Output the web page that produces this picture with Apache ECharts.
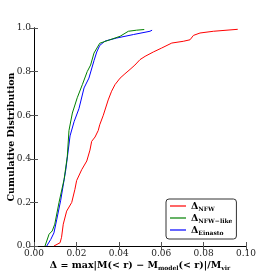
<!DOCTYPE html>
<html><head><meta charset="utf-8">
<script src="https://cdn.jsdelivr.net/npm/echarts@6/dist/echarts.min.js"></script>
<style>html,body{margin:0;padding:0;background:#fff}#c{width:274px;height:274px}</style>
</head><body><div id="c"></div>
<script>
var nfwX = [0.0094,0.0123,0.013,0.0138,0.0154,0.0178,0.0193,0.0201,0.0225,0.0249,0.0264,0.0272,0.0288,0.0303,0.031,0.0327,0.035,0.0366,0.0382,0.0406,0.0429,0.0453,0.0476,0.05,0.0524,0.0563,0.0602,0.061,0.065,0.0704,0.0736,0.0752,0.0783,0.0846,0.0961];
var nfwY = [0,0.015,0.04,0.10,0.16,0.20,0.26,0.30,0.35,0.39,0.44,0.48,0.50,0.53,0.556,0.60,0.67,0.71,0.74,0.77,0.79,0.81,0.83,0.855,0.87,0.89,0.908,0.916,0.931,0.939,0.946,0.966,0.977,0.985,0.994];
var likeX = [0.0052,0.0071,0.0086,0.0098,0.0118,0.0142,0.0157,0.0165,0.0181,0.0204,0.0228,0.0251,0.0267,0.0283,0.031,0.0358,0.0406,0.0445,0.0484,0.052];
var likeY = [0,0.054,0.069,0.10,0.20,0.306,0.41,0.53,0.61,0.68,0.74,0.80,0.83,0.885,0.93,0.946,0.962,0.985,0.99,0.993];
var einX = [0.006,0.0079,0.0094,0.0107,0.0126,0.015,0.017,0.0189,0.0212,0.0236,0.0259,0.0283,0.0296,0.031,0.0335,0.039,0.0469,0.0547,0.0557];
var einY = [0,0.03,0.06,0.12,0.21,0.35,0.505,0.57,0.63,0.725,0.77,0.85,0.89,0.92,0.94,0.954,0.97,0.985,0.99];
var seriesNames = ['NFW','NFW-like','Einasto'];
var seriesSubs = ['NFW','NFW\u2212like','Einasto'];
var xTicks = ['0.00','0.02','0.04','0.06','0.08','0.10'];
var yTicks = ['0.0','0.2','0.4','0.6','0.8','1.0'];

function pairs(xs, ys){ return xs.map(function(x,i){return [x, ys[i]];}); }
var F = '"DejaVu Serif", "Liberation Serif", serif';
var chart = echarts.init(document.getElementById('c'), null, {renderer:'canvas'});
var axisCommon = {
  axisLine:{show:true, lineStyle:{color:'#000', width:1}},
  axisTick:{show:true, inside:true, length:4, lineStyle:{color:'#555'}},
  splitLine:{show:false}
};
var colors = ['#ff0000','#008000','#0000ff'];
var datas = [pairs(nfwX,nfwY), pairs(likeX,likeY), pairs(einX,einY)];
chart.setOption({
  animation:false,
  grid:{left:34, right:28, top:28, bottom:28, containLabel:false, outerBoundsMode:'none'},
  xAxis:[
    Object.assign({type:'value', min:0, max:0.1, interval:0.02, position:'bottom',
      axisLabel:{fontFamily:F, fontSize:9, color:'#222', margin:3, formatter:function(v){return xTicks[Math.round(v/0.02)];}},
      name:'{b|\u0394 = max|M(< r) \u2212 M}{s|model}{b|(< r)|/M}{s|vir}',
      nameLocation:'middle', nameGap:13, nameMoveOverlap:false,
      nameTextStyle:{rich:{b:{fontFamily:F, fontSize:9.5, fontWeight:'bold', color:'#000', lineHeight:12, verticalAlign:'bottom'},
                           s:{fontFamily:F, fontSize:6, fontWeight:'bold', color:'#000', lineHeight:12, verticalAlign:'bottom'}}}
    }, axisCommon),
    Object.assign({type:'value', min:0, max:0.1, interval:0.02, position:'top', axisLabel:{show:false}}, axisCommon)
  ],
  yAxis:[
    Object.assign({type:'value', min:0, max:1, interval:0.2, position:'left',
      axisLabel:{fontFamily:F, fontSize:9, color:'#222', margin:3, formatter:function(v){return yTicks[Math.round(v/0.2)];}},
      name:'Cumulative Distribution', nameLocation:'middle', nameGap:17, nameRotate:90, nameMoveOverlap:false,
      nameTextStyle:{fontFamily:F, fontSize:9.5, fontWeight:'bold', color:'#000'}
    }, axisCommon),
    Object.assign({type:'value', min:0, max:1, interval:0.2, position:'right', axisLabel:{show:false}}, axisCommon)
  ],
  legend:{
    orient:'vertical', left:166, top:199, width:76,
    backgroundColor:'#fff', borderColor:'#333', borderWidth:1, borderRadius:3,
    padding:[3,4,3,4], itemGap:2, itemWidth:16, itemHeight:1.2, icon:'rect',
    data:seriesNames,
    formatter:function(n){ var i = seriesNames.indexOf(n); return '{b|\u0394}{s|'+seriesSubs[i]+'}'; },
    textStyle:{rich:{b:{fontFamily:F, fontSize:9.5, fontWeight:'bold', color:'#000', lineHeight:12, verticalAlign:'bottom'},
                     s:{fontFamily:F, fontSize:6, fontWeight:'bold', color:'#000', lineHeight:12, verticalAlign:'bottom'}}}
  },
  series: seriesNames.map(function(n,i){
    return {name:n, type:'line', data:datas[i], showSymbol:false, symbol:'none',
      lineStyle:{color:colors[i], width:1}, itemStyle:{color:colors[i]}, z:3-i+2};
  })
});
</script></body></html>
